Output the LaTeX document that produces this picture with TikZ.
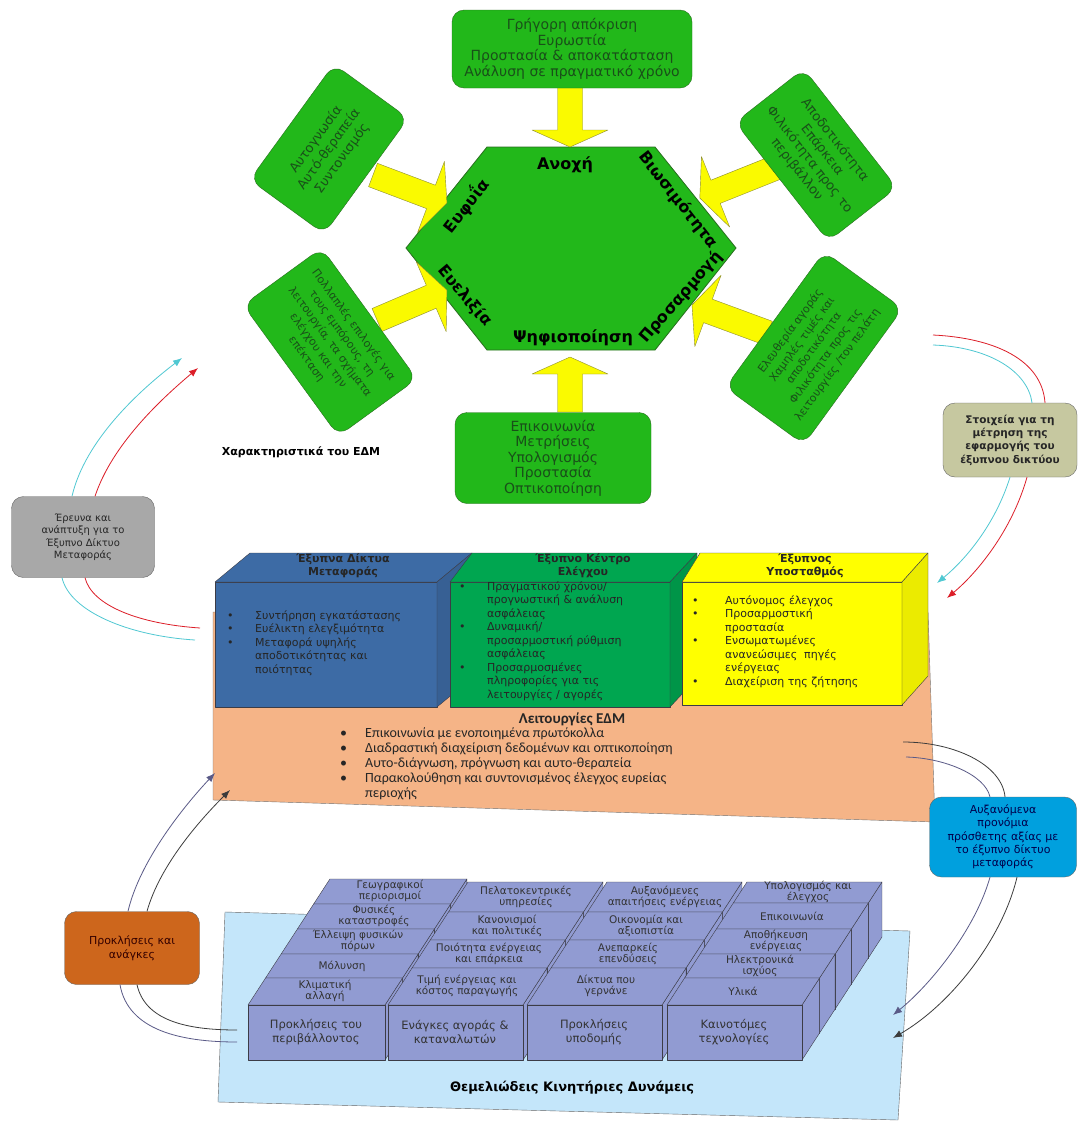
\documentclass[tikz,border=0pt]{standalone}
\usepackage{fontspec}
\setmainfont{DejaVu Sans}
\newfontfamily\calibrifont{Carlito}
\usepackage{tikz}
\usetikzlibrary{arrows.meta,calc}
\definecolor{edmGreen}  {RGB}{ 34,184, 26}
\definecolor{edmGreenD} {RGB}{ 40,110, 30}
\definecolor{edmGreenT} {RGB}{ 25, 80, 25}
\definecolor{edmYellow} {RGB}{250,250,  0}
\definecolor{edmYellowD}{RGB}{140,140, 50}
\definecolor{cubeBlue}  {RGB}{ 61,107,165}
\definecolor{cubeGreen} {RGB}{  0,166, 80}
\definecolor{cubeYellow}{RGB}{255,255,  0}
\definecolor{funOrange} {RGB}{245,180,135}
\definecolor{baseBlue}  {RGB}{196,230,250}
\definecolor{blockBlue} {RGB}{145,155,210}
\definecolor{rdGrey}    {RGB}{168,168,168}
\definecolor{msOlive}   {RGB}{198,200,160}
\definecolor{avBlue}    {RGB}{  0,160,222}
\definecolor{prBrown}   {RGB}{205,102, 28}
\definecolor{lnCyan}    {RGB}{ 80,200,210}
\definecolor{lnRed}     {RGB}{220, 30, 40}
\definecolor{lnSlate}   {RGB}{ 90, 90,135}
\definecolor{lnDark}    {RGB}{ 60, 60, 60}
\definecolor{edgeGrey}  {RGB}{ 60, 60, 70}
\newcommand{\bul}[1][25pt]{\makebox[#1][l]{\textbullet}}
\newcommand{\hang}[1][25pt]{\hspace*{#1}}

\begin{document}
\begin{tikzpicture}[
  x=1pt, y=-1pt,
  every node/.style={text=black!85},
  >={Latex[length=9pt,width=7pt]},
  gbox/.style={draw=edmGreenD, fill=edmGreen, rounded corners=12pt,
               text=edmGreenT, align=center, inner sep=3pt,
               font=\fontsize{13}{16}\selectfont},
  hexlbl/.style={font=\fontsize{16}{18}\selectfont\bfseries, text=black},
  cubetitle/.style={font=\fontsize{11}{13}\selectfont\bfseries, align=center},
  cubetxt/.style={font=\fontsize{11}{13.5}\selectfont, align=left,
                  anchor=north west, inner sep=0pt},
  cubeface/.style={draw=edgeGrey, line join=round},
  blk/.style={draw=edgeGrey, fill=blockBlue, line join=round},
  rowtxt/.style={font=\fontsize{10.5}{11.5}\selectfont, align=center,
                 inner sep=0pt, text=black!80},
  sidebox/.style={draw=black!60, rounded corners=12pt, align=center,
                  inner sep=3pt, font=\fontsize{10}{12.5}\selectfont},
  conn/.style={line width=0.8pt},
  pics/yarrow/.style={code={
    \filldraw[draw=edmYellowD, fill=edmYellow, line join=round]
      (0,-12.5) -- (#1-17,-12.5) -- (#1-17,-38) -- (#1,0)
      -- (#1-17,38) -- (#1-17,12.5) -- (0,12.5) -- cycle;}}
]
\useasboundingbox (0,0) rectangle (1078,1122);
\fill[white] (0,0) rectangle (1078,1122);

% hexagon of characteristics
\filldraw[draw=edmGreenD, fill=edmGreen, line width=0.8pt]
  (406,248) -- (487,147) -- (655,147) -- (736,248) -- (655,350) -- (487,350) -- cycle;
\pic[rotate=-90]    at (570,86)  {yarrow=61};
\pic[rotate=90]     at (570,412) {yarrow=55};
\pic[rotate=-20.7]  at (373,175) {yarrow=79};
\pic[rotate=23.2]   at (377,320) {yarrow=76};
\pic[rotate=-158.2] at (775,168) {yarrow=81};
\pic[rotate=159.8]  at (768,333) {yarrow=81};

\node[gbox, minimum width=240pt, minimum height=78pt, font=\fontsize{14}{15.7}\selectfont] (ch) at (572,49)
  {Γρήγορη απόκριση\\Ευρωστία\\Προστασία \& αποκατάσταση\\Ανάλυση σε πραγματικό χρόνο};
\node[gbox, rotate=54, minimum width=143pt, minimum height=92pt] (cf) at (329,149)
  {Αυτογνωσία\\Αυτό-θεραπεία\\Συντονισμός};
\node[gbox, rotate=-54, minimum width=162pt, minimum height=97pt,
      font=\fontsize{11}{14.5}\selectfont] (cl) at (330,342)
  {Πολλαπλές επιλογές για\\τους εμπόρους, τη\\λειτουργία, τα σχήματα\\ελέγχου και την\\επέκταση};
\node[gbox, rotate=-52, minimum width=151pt, minimum height=87pt] (cs) at (816,155)
  {Αποδοτικότητα\\Επάρκεια\\Φιλικότητα προς το\\περιβάλλον};
\node[gbox, rotate=54, minimum width=168pt, minimum height=97pt,
      font=\fontsize{11}{14.5}\selectfont] (cp) at (814,348)
  {Ελευθερία αγοράς\\Χαμηλές τιμές και\\αποδοτικότητα\\Φιλικότητα προς τις\\λειτουργίες /τον πελάτη};
\node[gbox, minimum width=196pt, minimum height=91pt, font=\fontsize{14}{15.5}\selectfont] (cd) at (553,458)
  {Επικοινωνία\\Μετρήσεις\\Υπολογισμός\\Προστασία\\Οπτικοποίηση};

\node[hexlbl] (hA) at (565,165) {Ανοχή};
\node[hexlbl] (hD) at (573,338) {Ψηφιοποίηση};
\node[hexlbl, rotate=52]  (hE) at (466,206) {Ευφυΐα};
\node[hexlbl, rotate=-50] (hL) at (465,296) {Ευελιξία};
\node[hexlbl, rotate=-52] (hS) at (678,200) {Βιωσιμότητα};
\node[hexlbl, rotate=49]  (hP) at (681,297) {Προσαρμογή};
\node[font=\fontsize{11}{13}\selectfont\bfseries, text=black] (cx) at (301,452) {Χαρακτηριστικά του ΕΔΜ};

% functions layer with the three cubes
\filldraw[draw=black!55, fill=funOrange] (213,612) -- (928,612) -- (935,822) -- (213,800) -- cycle;
\filldraw[cubeface, fill=cubeBlue] (215,582) rectangle (437,707);
\filldraw[cubeface, fill=cubeBlue] (215,582) -- (437,582) -- (472,553) -- (250,553) -- cycle;
\filldraw[cubeface, fill=cubeBlue!90!black] (437,582) -- (472,553) -- (472,678) -- (437,707) -- cycle;
\filldraw[cubeface, fill=cubeGreen] (450,582) rectangle (670,707);
\filldraw[cubeface, fill=cubeGreen] (450,582) -- (670,582) -- (697,553) -- (472,553) -- cycle;
\filldraw[cubeface, fill=cubeGreen!90!black] (670,582) -- (697,553) -- (697,678) -- (670,707) -- cycle;
\filldraw[cubeface, fill=cubeYellow] (682,582) rectangle (902,705);
\filldraw[cubeface, fill=cubeYellow] (682,582) -- (902,582) -- (928,553) -- (700,553) -- cycle;
\filldraw[cubeface, fill=cubeYellow!92!black] (902,582) -- (928,553) -- (928,676) -- (902,705) -- cycle;

\node[cubetitle] (bt) at (343,566) {Έξυπνα Δίκτυα\\Μεταφοράς};
\node[cubetxt] (bl) at (227,610)
  {\bul[28pt]Συντήρηση εγκατάστασης\\\bul[28pt]Ευέλικτη ελεγξιμότητα\\\bul[28pt]Μεταφορά υψηλής\\\hang[28pt]αποδοτικότητας και\\\hang[28pt]ποιότητας};
\node[cubetitle] (gt) at (583,566) {Έξυπνο Κέντρο\\Ελέγχου};
\node[cubetxt] (gl) at (459,581)
  {\bul[28pt]Πραγματικού χρόνου/\\\hang[28pt]προγνωστική \& ανάλυση\\\hang[28pt]ασφάλειας\\\bul[28pt]Δυναμική/\\\hang[28pt]προσαρμοστική ρύθμιση\\\hang[28pt]ασφάλειας\\\bul[28pt]Προσαρμοσμένες\\\hang[28pt]πληροφορίες για τις\\\hang[28pt]λειτουργίες / αγορές};
\node[cubetitle] (yt) at (805,566) {Έξυπνος\\Υποσταθμός};
\node[cubetxt] (yl) at (692,595)
  {\bul[33pt]Αυτόνομος έλεγχος\\\bul[33pt]Προσαρμοστική\\\hang[33pt]προστασία\\\bul[33pt]Ενσωματωμένες\\\hang[33pt]ανανεώσιμες\ \ πηγές\\\hang[33pt]ενέργειας\\\bul[33pt]Διαχείριση της ζήτησης};

\node[font=\calibrifont\fontsize{15}{17}\selectfont\bfseries] (ft) at (572,719) {Λειτουργίες ΕΔΜ};
\node[cubetxt, font=\calibrifont\fontsize{14}{15}\selectfont] (fl) at (340,727)
  {\bul[25pt]Επικοινωνία με ενοποιημένα πρωτόκολλα\\\bul[25pt]Διαδραστική διαχείριση δεδομένων και οπτικοποίηση\\\bul[25pt]Αυτο-διάγνωση, πρόγνωση και αυτο-θεραπεία\\\bul[25pt]Παρακολούθηση και συντονισμένος έλεγχος ευρείας\\\hang[25pt]περιοχής};

% driving forces platform and blocks
\filldraw[draw=black!60, fill=baseBlue] (225,912) -- (910,931) -- (898,1120) -- (218,1102) -- cycle;
\foreach \xl/\xr/\rows in {248/385/{879/904,904/929,929/954,954/978,978/1005},
                          388/523/{882/912,912/940,940/968,968/1005},
                          527/662/{882/912,912/940,940/968,968/1005},
                          667/802/{882/903,903/929,929/954,954/978,978/1005}}{
  \foreach \yb/\yf in \rows {
    \pgfmathsetmacro\df{0.65*(1005-\yf)}
    \pgfmathsetmacro\db{0.65*(1005-\yb)}
    \filldraw[blk] (\xr+\df,\yf) -- (\xr+\db,\yb) -- (\xr+\db,\yb+55) -- (\xr+\df,\yf+55) -- cycle;
    \filldraw[blk] (\xl+\df,\yf) -- (\xr+\df,\yf) -- (\xr+\db,\yb) -- (\xl+\db,\yb) -- cycle;
    \filldraw[blk] (\xl+\df,\yf) rectangle (\xr+\df,\yf+55);
  }
}
\foreach \x/\y/\t [count=\i] in {325/991/{Κλιματική\\αλλαγή}, 342/966/Μόλυνση,
    358/941/{Έλλειψη φυσικών\\πόρων}, 374/916/{Φυσικές\\καταστροφές}, 390/891/{Γεωγραφικοί\\περιορισμοί}}
  \node[rowtxt] (env\i) at (\x,\y) {\t};
\foreach \x/\y/\t [count=\i] in {467/986/{Τιμή ενέργειας και\\κόστος παραγωγής}, 489/954/{Ποιότητα ενέργειας\\και επάρκεια},
    507/926/{Κανονισμοί\\και πολιτικές}, 526/897/{Πελατοκεντρικές\\υπηρεσίες}}
  \node[rowtxt] (mkt\i) at (\x,\y) {\t};
\foreach \x/\y/\t [count=\i] in {606/986/{Δίκτυα που\\γερνάνε}, 628/954/{Ανεπαρκείς\\επενδύσεις},
    646/926/{Οικονομία και\\αξιοπιστία}, 665/897/{Αυξανόμενες\\απαιτήσεις ενέργειας}}
  \node[rowtxt] (inf\i) at (\x,\y) {\t};
\foreach \x/\y/\t [count=\i] in {743/991/Υλικά, 760/966/{Ηλεκτρονικά\\ισχύος},
    776/941/{Αποθήκευση\\ενέργειας}, 792/916/Επικοινωνία, 808/892/{Υπολογισμός και\\έλεγχος}}
  \node[rowtxt] (tec\i) at (\x,\y) {\t};
\foreach \x/\t [count=\i] in {316/{Προκλήσεις του\\περιβάλλοντος}, 455/{Ενάγκες αγοράς \&\\καταναλωτών},
    594/{Προκλήσεις\\υποδομής}, 734/{Καινοτόμες\\τεχνολογίες}}
  \node[rowtxt, font=\fontsize{11.5}{14}\selectfont] (frn\i) at (\x,1032) {\t};
\node[font=\fontsize{13}{15}\selectfont\bfseries, text=black] (fd) at (572,1088) {Θεμελιώδεις Κινητήριες Δυνάμεις};

% side boxes
\node[sidebox, fill=rdGrey, minimum width=143pt, minimum height=81pt] (rd) at (83,537)
  {Έρευνα και\\ανάπτυξη για το\\Έξυπνο Δίκτυο\\Μεταφοράς};
\node[sidebox, fill=msOlive, minimum width=134pt, minimum height=74pt,
      font=\fontsize{10.5}{13.3}\selectfont\bfseries] (ms) at (1010,440)
  {Στοιχεία για τη\\μέτρηση της\\εφαρμογής του\\έξυπνου δικτύου};
\node[sidebox, fill=avBlue, minimum width=147pt, minimum height=80pt, text=blue!30!black,
      font=\fontsize{11}{13.3}\selectfont] (av) at (1003,837)
  {Αυξανόμενα\\προνόμια\\πρόσθετης αξίας με\\το έξυπνο δίκτυο\\μεταφοράς};
\node[sidebox, fill=prBrown, minimum width=135pt, minimum height=73pt, text=black!80!red,
      font=\fontsize{11}{14}\selectfont] (pc) at (132,948) {Προκλήσεις και\\ανάγκες};

% connectors
\coordinate (cyA) at (195,640);  \coordinate (cyB) at (182,358);
\coordinate (rdA) at (200,628);  \coordinate (rdB) at (198,368);
\coordinate (crA) at (933,345);  \coordinate (crB) at (937,583);
\coordinate (rrA) at (933,335);  \coordinate (rrB) at (947,598);
\coordinate (dkD) at (903,742);  \coordinate (dkE) at (893,1038);
\coordinate (slD) at (906,757);  \coordinate (slE) at (893,1015);
\coordinate (slB) at (215,773);  \coordinate (slC) at (237,1042);
\coordinate (dkB) at (230,790);  \coordinate (dkC) at (237,1030);

\draw[conn, lnCyan] (cyA) .. controls (130,636) and (70,612) .. ([xshift=-21pt]rd.south);
\draw[conn, lnCyan, ->] ([xshift=-11pt]rd.north) .. controls (85,440) and (140,390) .. (cyB);
\draw[conn, lnRed] (rdA) .. controls (140,624) and (92,606) .. ([xshift=2pt]rd.south);
\draw[conn, lnRed, ->] ([xshift=12pt]rd.north) .. controls (112,445) and (160,400) .. (rdB);

\draw[conn, lnRed] (rrA) .. controls (995,338) and (1042,360) .. ([xshift=35pt]ms.north);
\draw[conn, lnCyan] (crA) .. controls (990,347) and (1028,372) .. ([xshift=22pt]ms.north);
\draw[conn, lnCyan, ->] (ms.south) .. controls (995,525) and (965,560) .. (crB);
\draw[conn, lnRed, ->] ([xshift=17pt]ms.south) .. controls (1012,530) and (978,572) .. (rrB);

\draw[conn, lnDark] (dkD) .. controls (955,742) and (1002,765) .. ([xshift=2pt]av.north);
\draw[conn, lnSlate] (slD) .. controls (945,758) and (985,775) .. ([xshift=-13pt]av.north);
\draw[conn, lnSlate, ->] ([xshift=-13pt]av.south) .. controls (975,930) and (930,985) .. (slE);
\draw[conn, lnDark, ->] ([xshift=14pt]av.south) .. controls (1002,940) and (950,1005) .. (dkE);

\draw[conn, lnSlate, ->] ([xshift=-4pt]pc.north) .. controls (140,860) and (185,805) .. (slB);
\draw[conn, lnDark, ->] ([xshift=15pt]pc.north) .. controls (160,865) and (200,820) .. (dkB);
\draw[conn, lnSlate] ([xshift=-12pt]pc.south) .. controls (128,1030) and (180,1042) .. (slC);
\draw[conn, lnDark] ([xshift=5pt]pc.south) .. controls (145,1020) and (185,1030) .. (dkC);
\end{tikzpicture}
\end{document}
